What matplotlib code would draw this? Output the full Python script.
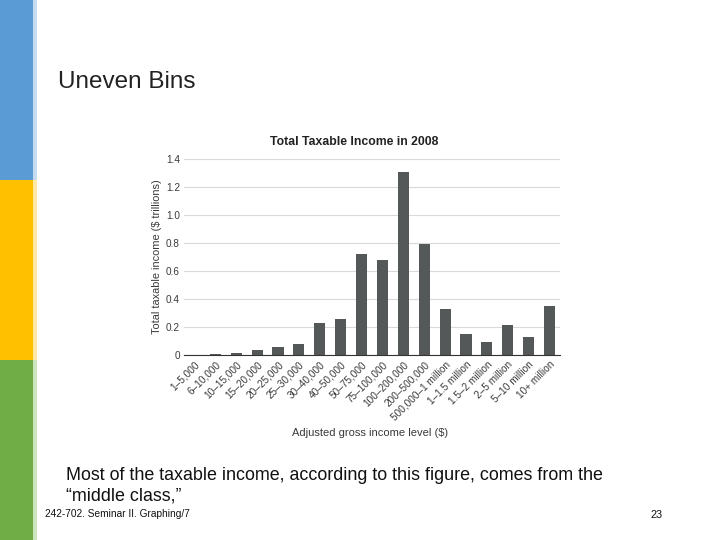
import matplotlib
matplotlib.use('Agg')
import matplotlib.pyplot as plt
from matplotlib.patches import Rectangle

plt.rcParams['font.family'] = ['Liberation Sans', 'DejaVu Sans']

# Data
income_levels = ['1–5,000', '6–10,000', '10–15,000', '15–20,000', '20–25,000',
                 '25–30,000', '30–40,000', '40–50,000', '50–75,000', '75–100,000',
                 '100–200,000', '200–500,000', '500,000–1 million', '1–1.5 million',
                 '1.5–2 million', '2–5 million', '5–10 million', '10+ million']
taxable_income = [0.002, 0.009, 0.019, 0.038, 0.059, 0.081, 0.23, 0.259, 0.72,
                  0.677, 1.304, 0.79, 0.33, 0.15, 0.093, 0.216, 0.13, 0.349]
y_ticks = [0, 0.2, 0.4, 0.6, 0.8, 1.0, 1.2, 1.4]
y_tick_labels = ['0', '0.2', '0.4', '0.6', '0.8', '1.0', '1.2', '1.4']

fig = plt.figure(figsize=(7.2, 5.4), dpi=100)
W, H = 720, 540

# Side colour bars
side_colors = ['#5B9BD5', '#FFC000', '#70AD47']
light_colors = ['#C5DBF0', '#FFE8A6', '#CDE5BC']
for i, (c, lc) in enumerate(zip(side_colors, light_colors)):
    y0 = 1 - (i + 1) / 3
    fig.patches.append(Rectangle((0, y0), 33 / W, 1 / 3, transform=fig.transFigure,
                                 facecolor=c, edgecolor='none'))
    fig.patches.append(Rectangle((33 / W, y0), 4 / W, 1 / 3, transform=fig.transFigure,
                                 facecolor=lc, edgecolor='none'))

# Slide title
fig.text(58 / W, 1 - 82 / H, 'Uneven Bins', fontsize=17.5, color='#222222',
         ha='left', va='center')

# Chart
ax = fig.add_axes([184 / W, 1 - 355.3 / H, 376 / W, 196.6 / H])
x = range(len(income_levels))
ax.bar(x, taxable_income, width=0.53, color='#555859', zorder=3)
ax.set_xlim(-0.5, len(income_levels) - 0.5)
ax.set_ylim(0, 1.4)
ax.set_yticks(y_ticks)
ax.set_yticklabels(y_tick_labels, fontsize=7.2, color='#3a3a3a')
ax.set_xticks(list(x))
ax.set_xticklabels(income_levels, rotation=45, ha='right', va='top',
                   rotation_mode='anchor', fontsize=7.2, color='#3a3a3a')
ax.tick_params(length=0, pad=3)
ax.grid(axis='y', color='#d9d9d9', linewidth=0.8, zorder=0)
for s in ['top', 'right', 'left']:
    ax.spines[s].set_visible(False)
ax.spines['bottom'].set_color('#333333')
ax.spines['bottom'].set_linewidth(0.8)
ax.spines['bottom'].set_zorder(4)

fig.text(354 / W, 1 - 142 / H, 'Total Taxable Income in 2008', fontsize=8.8,
         fontweight='bold', color='#222222', ha='center', va='center')
fig.text(157 / W, 1 - 257 / H, 'Total taxable income ($ trillions)', fontsize=7.9,
         color='#3a3a3a', rotation=90, ha='center', va='center')
fig.text(370 / W, 1 - 433 / H, 'Adjusted gross income level ($)', fontsize=8,
         color='#3a3a3a', ha='center', va='center')

# Body text
fig.text(66 / W, 1 - 476 / H, 'Most of the taxable income, according to this figure, comes from the',
         fontsize=12.9, color='#111111', ha='left', va='center')
fig.text(66 / W, 1 - 496 / H, '\u201cmiddle class,\u201d',
         fontsize=12.9, color='#111111', ha='left', va='center')

# Footer
fig.text(45 / W, 1 - 514 / H, '242-702. Seminar II. Graphing/7', fontsize=7.3,
         color='#111111', ha='left', va='center')
fig.text(663 / W, 1 - 515 / H, '23', fontsize=7.8, color='#111111',
         ha='right', va='center')

fig.savefig('out.png', dpi=100, facecolor='white')
